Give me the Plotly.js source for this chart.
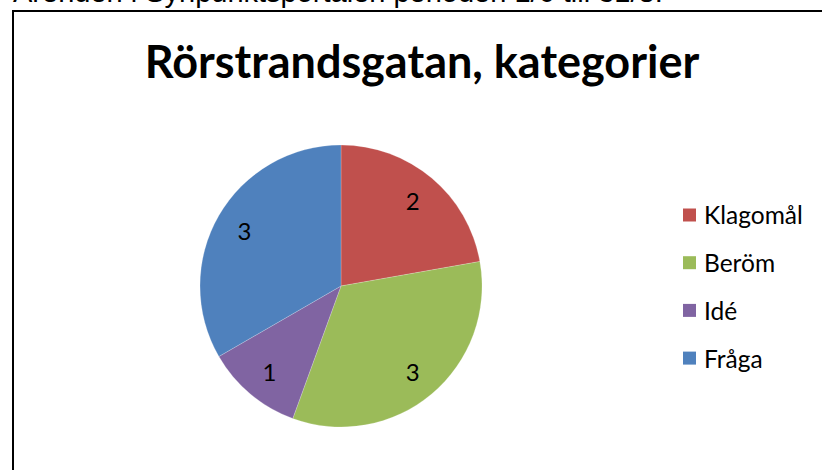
<!DOCTYPE html>
<html>
<head>
<meta charset="utf-8">
<script src="https://cdn.plot.ly/plotly-3.0.1.min.js"></script>
<style>
	html, body { margin: 0; padding: 0; background: #fff; }
	#root { width: 822px; height: 470px; }
</style>
</head>
<body>
<div id="root"></div>
<script>
let categories = ['Klagomål', 'Beröm', 'Idé', 'Fråga'];
let counts = [2, 3, 1, 3];
let colors = ['#C0504D', '#9BBB59', '#8064A2', '#4F81BD'];
let chartTitle = 'Rörstrandsgatan, kategorier';
let pageText = 'Ärenden i Synpunktsportalen perioden 1/6 till 31/8.';

let W = 822;
let H = 470;

function px(x) { return x / W; }
function py(y) { return 1 - y / H; }

function createGraph() {
	let cx = 341, cy = 286, r = 141;
	let domain = {
		x: [px(cx - r), px(cx + r)],
		y: [py(cy + r), py(cy - r)]
	};

	let pie = {
		type: 'pie',
		labels: categories,
		values: counts,
		sort: false,
		direction: 'clockwise',
		rotation: 0,
		domain: domain,
		marker: { colors: colors, line: { color: 'rgba(255,255,255,0.4)', width: 0.5 } },
		textinfo: 'none',
		hoverinfo: 'label+value',
		showlegend: false
	};

	// transparent ring so the value labels sit part way out, like Excel
	let labelRing = {
		type: 'pie',
		labels: categories,
		values: counts,
		sort: false,
		direction: 'clockwise',
		rotation: 0,
		domain: domain,
		hole: 0.58,
		marker: { colors: categories.map(() => 'rgba(0,0,0,0)'), line: { width: 0 } },
		textinfo: 'value',
		textposition: 'inside',
		insidetextorientation: 'horizontal',
		textfont: { family: 'Lato, sans-serif', size: 24, color: '#000' },
		hoverinfo: 'skip',
		showlegend: false
	};

	let shapes = [{
		type: 'rect', xref: 'paper', yref: 'paper',
		x0: px(13), x1: 1.1, y0: -0.1, y1: py(11),
		line: { color: '#000', width: 2 }, fillcolor: 'rgba(0,0,0,0)'
	}];

	let annotations = [{
		text: pageText, xref: 'paper', yref: 'paper',
		x: px(11), y: py(10), xanchor: 'left', yanchor: 'bottom',
		showarrow: false,
		font: { family: 'Liberation Sans, Arial, sans-serif', size: 29, color: '#000' }
	}];

	// legend drawn by hand to get Excel's wide row spacing
	for (let i = 0; i < categories.length; i++) {
		let y = 215 + i * 47.7;
		shapes.push({
			type: 'rect', xref: 'paper', yref: 'paper',
			x0: px(683), x1: px(696), y0: py(y + 6.5), y1: py(y - 6.5),
			line: { width: 0 }, fillcolor: colors[i]
		});
		annotations.push({
			text: categories[i], xref: 'paper', yref: 'paper',
			x: px(702), y: py(y), xanchor: 'left', yanchor: 'middle',
			showarrow: false,
			font: { family: 'Lato, sans-serif', size: 24.5, color: '#000' }
		});
	}

	let layout = {
		width: W,
		height: H,
		margin: { l: 0, r: 0, t: 0, b: 0 },
		paper_bgcolor: '#fff',
		title: {
			text: '<b>' + chartTitle + '</b>',
			x: px(422), y: py(62), xanchor: 'center', yanchor: 'middle',
			font: { family: 'Lato, sans-serif', size: 45, color: '#000' }
		},
		shapes: shapes,
		annotations: annotations,
		showlegend: false
	};

	Plotly.newPlot('root', [pie, labelRing], layout, { displayModeBar: false });
}

createGraph();
</script>
</body>
</html>
